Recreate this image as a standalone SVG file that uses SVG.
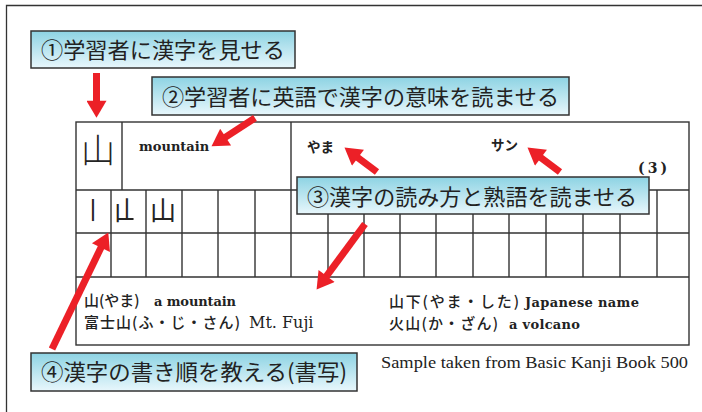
<svg xmlns="http://www.w3.org/2000/svg" width="702" height="412" viewBox="0 0 702 412">
<defs>
<linearGradient id="boxg" x1="0" y1="0" x2="0" y2="1">
<stop offset="0" stop-color="#8dd3e3"/>
<stop offset="1" stop-color="#e8f7fc"/>
</linearGradient>
<marker id="ah" markerUnits="userSpaceOnUse" markerWidth="20" markerHeight="20" viewBox="0 0 16 19" refX="4" refY="9.5" orient="auto">
<path d="M0,0 L16,9.5 L0,19 z" fill="#ec2027"/>
</marker>
<clipPath id="partial"><rect x="111" y="190" width="22.5" height="43"/></clipPath>
</defs>
<style>
.box{fill:url(#boxg);stroke:#333;stroke-width:1.5}
.bt{font-family:"Noto Sans CJK JP",sans-serif;font-size:22px;fill:#222}
.grid{stroke:#333;stroke-width:1.4;fill:none}
.jp{font-family:"Noto Sans CJK JP",sans-serif;fill:#222}
.en{font-family:"DejaVu Serif",serif;fill:#222}
.arr{stroke:#ec2027;stroke-width:7;fill:none;marker-end:url(#ah)}
</style>
<rect width="702" height="412" fill="#fff"/>
<path d="M6.5,412 V5.5 H702" fill="none" stroke="#333" stroke-width="1.3"/>

<g id="table">
<rect x="76" y="122" width="613" height="223" fill="#fdfdfd" class="grid"/>
<path class="grid" d="M122,122 V190 M76,190 H689 M76,233 H689 M76,277 H689 M291,122 V277 M111,190 V277 M146,190 V277 M182,190 V277 M218,190 V277 M255,190 V277 M328,190 V277 M364,190 V277 M400,190 V277 M436,190 V277 M473,190 V277 M509,190 V277 M546,190 V277 M583,190 V277 M620,190 V277 M657,190 V277"/>
<g opacity="0.99">
<text class="jp" x="81" y="163" font-size="34" font-weight="300">山</text>
<text class="jp" x="81" y="219" font-size="24">丨</text>
<text class="jp" x="114" y="220" font-size="26" clip-path="url(#partial)">山</text>
<text class="jp" x="150" y="220" font-size="26">山</text>
</g>
<text class="en" x="139" y="151" font-size="13" font-weight="bold">mountain</text>
<text class="jp" x="307" y="152" font-size="13.5" font-weight="bold">やま</text>
<text class="jp" x="491" y="150" font-size="13.5" font-weight="bold">サン</text>
<text class="en" x="638" y="173" font-size="14" font-weight="bold" textLength="29" lengthAdjust="spacing">(3)</text>
<text class="jp" x="84" y="306" font-size="15" font-weight="500">山(やま)</text>
<text class="en" x="154" y="306" font-size="13" font-weight="bold" textLength="82" lengthAdjust="spacing">a mountain</text>
<text class="jp" x="84" y="328" font-size="15" font-weight="500" textLength="156" lengthAdjust="spacing">富士山(ふ・じ・さん)</text>
<text class="en" x="249" y="328" font-size="16">Mt. Fuji</text>
<text class="jp" x="389" y="307" font-size="15" font-weight="500" textLength="130" lengthAdjust="spacing">山下(やま・した)</text>
<text class="en" x="525" y="307" font-size="13" font-weight="bold" textLength="114" lengthAdjust="spacing">Japanese name</text>
<text class="jp" x="389" y="329" font-size="15" font-weight="500" textLength="109" lengthAdjust="spacing">火山(か・ざん)</text>
<text class="en" x="509" y="329" font-size="13" font-weight="bold" textLength="71" lengthAdjust="spacing">a volcano</text>
</g>

<g id="caption">
<text x="381" y="368" font-family="Liberation Serif, serif" font-size="17.5" fill="#222" textLength="307" lengthAdjust="spacingAndGlyphs">Sample taken from Basic Kanji Book 500</text>
</g>

<g id="box1">
<rect class="box" x="31" y="31" width="264" height="37"/>
<text class="bt" x="41" y="58" textLength="244" lengthAdjust="spacingAndGlyphs">①学習者に漢字を見せる</text>
</g>
<g id="box2">
<rect class="box" x="152" y="77" width="417" height="38"/>
<text class="bt" x="162" y="105" textLength="397" lengthAdjust="spacingAndGlyphs">②学習者に英語で漢字の意味を読ませる</text>
</g>
<g id="box3">
<rect class="box" x="297" y="177" width="352" height="37"/>
<text class="bt" x="307" y="205" textLength="330" lengthAdjust="spacingAndGlyphs">③漢字の読み方と熟語を読ませる</text>
</g>
<g id="box4">
<rect class="box" x="31" y="353" width="326" height="38"/>
<text class="bt" x="41" y="380" textLength="306" lengthAdjust="spacingAndGlyphs">④漢字の書き順を教える(書写)</text>
</g>

<g id="connectors">
<line class="arr" x1="96.5" y1="73" x2="96.5" y2="105"/>
<line class="arr" x1="255" y1="118" x2="222.1" y2="139.4"/>
<line class="arr" x1="377" y1="172" x2="354.6" y2="155.2"/>
<line class="arr" x1="560" y1="172" x2="537.6" y2="155.2"/>
<line class="arr" x1="365" y1="224" x2="324.1" y2="279.4"/>
<line class="arr" x1="52" y1="349" x2="102.8" y2="243.8"/>
</g>
</svg>
